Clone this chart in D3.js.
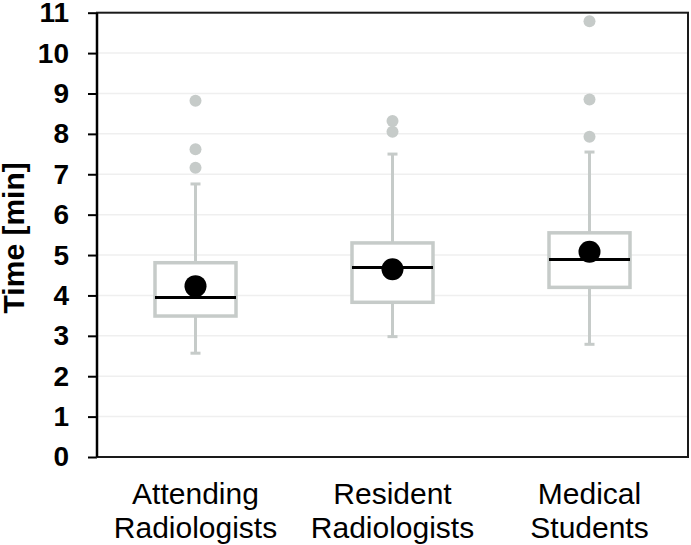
<!DOCTYPE html>
<html>
<head>
<meta charset="utf-8">
<script src="https://cdn.jsdelivr.net/npm/d3@7/dist/d3.min.js"></script>
<style>
  html, body { margin: 0; padding: 0; background: #fff; }
  svg { display: block; font-family: "Liberation Sans", Arial, sans-serif; }
</style>
</head>
<body>
<svg id="chart" width="691" height="545"></svg>
<script>
const categories = [["Attending", "Radiologists"], ["Resident", "Radiologists"], ["Medical", "Students"]];
const whiskerLow = [2.57, 2.98, 2.79];
const q1 = [3.49, 3.83, 4.20];
const median = [3.95, 4.69, 4.89];
const q3 = [4.81, 5.30, 5.55];
const whiskerHigh = [6.76, 7.50, 7.55];
const means = [4.23, 4.65, 5.08];
const outliers = [[7.16, 7.62, 8.82], [8.05, 8.32], [7.93, 8.85, 10.79]];
const yTicks = [0, 1, 2, 3, 4, 5, 6, 7, 8, 9, 10, 11];
const yTitle = "Time [min]";

const svg = d3.select("#chart");
const L = 97, R = 688, T = 12.7, B = 457;
const keys = categories.map((c, i) => i);
const x = d3.scaleBand().domain(keys).range([L, R]).padding(0);
const y = d3.scaleLinear().domain([0, 11]).range([B, T]);
const boxW = 81, capW = 10;
const gray = "#c6cbc9";

// gridlines
svg.append("g").selectAll("line").data(yTicks.filter(t => t > 0 && t < 11)).join("line")
  .attr("x1", L).attr("x2", R).attr("y1", d => y(d)).attr("y2", d => y(d))
  .attr("stroke", "#efefef").attr("stroke-width", 1.5);

// y axis
const yAxis = d3.axisLeft(y).tickValues(yTicks).tickSize(9).tickPadding(19).tickFormat(d3.format("d"));
const ya = svg.append("g").attr("transform", `translate(${L},0)`).call(yAxis);
ya.select(".domain").remove();
ya.selectAll(".tick line").attr("stroke", "#000").attr("stroke-width", 2);
ya.selectAll(".tick text").attr("font-size", 28).attr("font-weight", "bold")
  .attr("fill", "#000").attr("font-family", "Liberation Sans, Arial, sans-serif");

// frame
svg.append("rect").attr("x", L).attr("y", T).attr("width", R - L).attr("height", B - T)
  .attr("fill", "none").attr("stroke", "#1a1a1a").attr("stroke-width", 2);
svg.append("line").attr("x1", L).attr("x2", L).attr("y1", T).attr("y2", B)
  .attr("stroke", "#000").attr("stroke-width", 2.5);

const g = svg.append("g");
keys.forEach(i => {
  const cx = x(i) + x.bandwidth() / 2;
  // whiskers
  g.append("line").attr("x1", cx).attr("x2", cx).attr("y1", y(q3[i])).attr("y2", y(whiskerHigh[i]))
    .attr("stroke", gray).attr("stroke-width", 3);
  g.append("line").attr("x1", cx).attr("x2", cx).attr("y1", y(q1[i])).attr("y2", y(whiskerLow[i]))
    .attr("stroke", gray).attr("stroke-width", 3);
  [whiskerHigh[i], whiskerLow[i]].forEach(v => {
    g.append("line").attr("x1", cx - capW / 2).attr("x2", cx + capW / 2).attr("y1", y(v)).attr("y2", y(v))
      .attr("stroke", gray).attr("stroke-width", 3);
  });
  // box
  g.append("rect").attr("x", cx - boxW / 2).attr("y", y(q3[i])).attr("width", boxW)
    .attr("height", y(q1[i]) - y(q3[i])).attr("fill", "#fff").attr("stroke", gray).attr("stroke-width", 3.5);
  // median
  g.append("line").attr("x1", cx - boxW / 2).attr("x2", cx + boxW / 2).attr("y1", y(median[i])).attr("y2", y(median[i]))
    .attr("stroke", "#000").attr("stroke-width", 3);
  // outliers
  g.selectAll(null).data(outliers[i]).join("circle")
    .attr("cx", cx).attr("cy", d => y(d)).attr("r", 6).attr("fill", gray);
  // mean
  g.append("circle").attr("cx", cx).attr("cy", y(means[i])).attr("r", 11).attr("fill", "#000");
});

// x labels
keys.forEach(i => {
  const cx = x(i) + x.bandwidth() / 2;
  const t = svg.append("text").attr("x", cx).attr("y", 504).attr("text-anchor", "middle")
    .attr("font-size", 30).attr("fill", "#000");
  categories[i].forEach((line, k) => {
    t.append("tspan").attr("x", cx).attr("y", 504 + k * 34).text(line);
  });
});

// y title
svg.append("text").attr("transform", `translate(24,${(T + B) / 2 + 3}) rotate(-90)`)
  .attr("text-anchor", "middle").attr("font-size", 30).attr("font-weight", "bold").attr("fill", "#000")
  .text(yTitle);
</script>
</body>
</html>
